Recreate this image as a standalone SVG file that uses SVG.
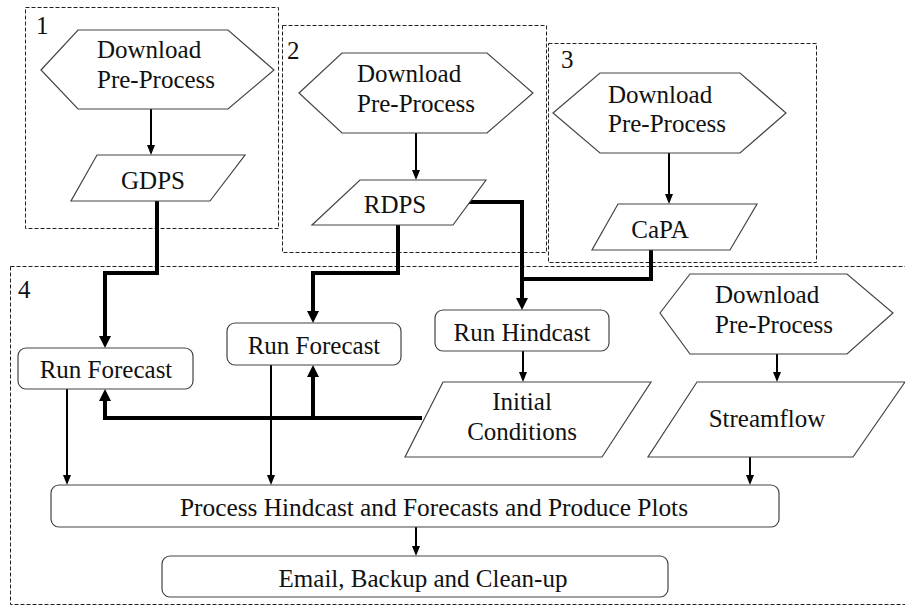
<svg xmlns="http://www.w3.org/2000/svg" width="905" height="606" viewBox="0 0 905 606" font-family="Liberation Serif, Times New Roman, DejaVu Serif, serif" font-size="25">
<style>
.grp{fill:none;stroke:#222;stroke-width:1;stroke-dasharray:4 2}
.shape{fill:#fff;stroke:#444;stroke-width:1.2}
text{fill:#111}
.c{text-anchor:middle}
.thin{fill:none;stroke:#000;stroke-width:2}
.thick{fill:none;stroke:#000;stroke-width:4}
</style>
<defs>
<marker id="a1" markerUnits="userSpaceOnUse" markerWidth="10" markerHeight="8" refX="0" refY="4" orient="auto"><path d="M0,0 L10,4 L0,8 z" fill="#000"/></marker>
<marker id="a2" markerUnits="userSpaceOnUse" markerWidth="12" markerHeight="12" refX="0" refY="6" orient="auto"><path d="M0,0 L12,6 L0,12 z" fill="#000"/></marker>
</defs>
<g id="groups">
<rect class="grp" x="25.5" y="7.5" width="253" height="221"/>
<rect class="grp" x="282.5" y="25.5" width="264" height="227"/>
<rect class="grp" x="548.5" y="43.5" width="268" height="219"/>
<rect class="grp" x="10.5" y="266.5" width="900" height="338"/>
<text x="36" y="34">1</text>
<text x="287" y="59">2</text>
<text x="561" y="68">3</text>
<text x="18" y="298">4</text>
</g>
<g id="connectors">
<path class="thin" d="M151,109 V145" marker-end="url(#a1)"/>
<path class="thin" d="M416,133 V170" marker-end="url(#a1)"/>
<path class="thin" d="M669,153 V194" marker-end="url(#a1)"/>
<path class="thin" d="M777,354 V372" marker-end="url(#a1)"/>
<path class="thin" d="M523,351 V372" marker-end="url(#a1)"/>
<path class="thin" d="M67,389 V475" marker-end="url(#a1)"/>
<path class="thin" d="M271,365 V475" marker-end="url(#a1)"/>
<path class="thin" d="M750,457 V475" marker-end="url(#a1)"/>
<path class="thin" d="M416,527 V546" marker-end="url(#a1)"/>
<path class="thick" d="M157,201 V273 H105 V336" marker-end="url(#a2)"/>
<path class="thick" d="M398,225 V273 H313 V311" marker-end="url(#a2)"/>
<path class="thick" d="M468,202 H522 V298" marker-end="url(#a2)"/>
<path class="thick" d="M651,249 V279 H522"/>
<path class="thick" d="M422,418 H105 V401" marker-end="url(#a2)"/>
<path class="thick" d="M313,418 V377" marker-end="url(#a2)"/>
</g>
<g id="dl1">
<polygon class="shape" points="41,70 78,30 228,30 274,70 228,109 78,109"/>
<text x="97" y="58">Download</text>
<text x="97" y="88">Pre-Process</text>
</g>
<g id="gdps">
<polygon class="shape" points="97,155 245,155 210,201 71,201"/>
<text class="c" x="153" y="189">GDPS</text>
</g>
<g id="dl2">
<polygon class="shape" points="299,93 342,53 487,53 533,93 487,133 342,133"/>
<text x="357" y="82">Download</text>
<text x="357" y="112">Pre-Process</text>
</g>
<g id="rdps">
<polygon class="shape" points="360,180 486,180 453,225 312,225"/>
<text class="c" x="395" y="213">RDPS</text>
</g>
<g id="dl3">
<polygon class="shape" points="553,113 600,73 740,73 786,113 740,153 600,153"/>
<text x="608" y="103">Download</text>
<text x="608" y="132">Pre-Process</text>
</g>
<g id="capa">
<polygon class="shape" points="618,204 757,204 730,250 592,250"/>
<text class="c" x="660" y="238">CaPA</text>
</g>
<g id="rf1">
<rect class="shape" x="18" y="348" width="175" height="41" rx="8"/>
<text class="c" x="106" y="378">Run Forecast</text>
</g>
<g id="rf2">
<rect class="shape" x="227" y="323" width="174" height="42" rx="8"/>
<text class="c" x="314" y="354">Run Forecast</text>
</g>
<g id="rh">
<rect class="shape" x="435" y="310" width="174" height="41" rx="8"/>
<text class="c" x="522" y="341">Run Hindcast</text>
</g>
<g id="ic">
<polygon class="shape" points="443,382 651,382 602,457 405,457"/>
<text class="c" x="522" y="410">Initial</text>
<text class="c" x="522" y="440">Conditions</text>
</g>
<g id="dl4">
<polygon class="shape" points="660,313 690,274 847,274 893,313 847,354 690,354"/>
<text x="715" y="303">Download</text>
<text x="715" y="333">Pre-Process</text>
</g>
<g id="sf">
<polygon class="shape" points="697,382 905,382 853,457 648,457"/>
<text class="c" x="767" y="427">Streamflow</text>
</g>
<g id="proc">
<rect class="shape" x="51" y="485" width="728" height="42" rx="8"/>
<text class="c" x="434" y="516" textLength="508" lengthAdjust="spacingAndGlyphs">Process Hindcast and Forecasts and Produce Plots</text>
</g>
<g id="email">
<rect class="shape" x="162" y="556" width="506" height="41" rx="8"/>
<text class="c" x="423" y="587">Email, Backup and Clean-up</text>
</g>
</svg>
